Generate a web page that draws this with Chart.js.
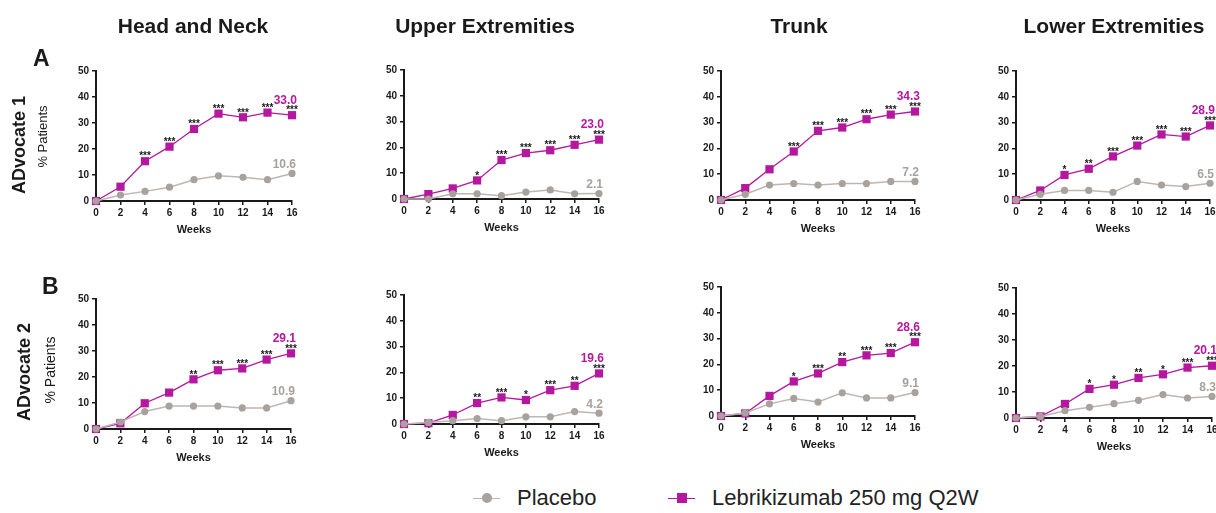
<!DOCTYPE html>
<html><head><meta charset="utf-8">
<script src="https://cdn.jsdelivr.net/npm/chart.js@4.4.1/dist/chart.umd.min.js"></script>
<style>
html,body{margin:0;padding:0;background:#fff;width:1216px;height:513px;overflow:hidden;position:relative;font-family:"Liberation Sans",Arial,sans-serif;}
.t{position:absolute;white-space:nowrap;color:#1a1a1a;}
canvas{position:absolute;}
</style></head><body>
<script>
// ---------- DATA ----------
const weeks = [0, 2, 4, 6, 8, 10, 12, 14, 16];
const regions = ['Head and Neck', 'Upper Extremities', 'Trunk', 'Lower Extremities'];
const studies = ['ADvocate 1', 'ADvocate 2'];
const panelLetters = ['A', 'B'];
const seriesNames = ['Placebo', 'Lebrikizumab 250 mg Q2W'];
const yTicks = [0, 10, 20, 30, 40, 50];

// ADvocate 1
const adv1HeadNeckPlacebo = [0, 2.3, 3.7, 5.3, 8.2, 9.7, 9.1, 8.2, 10.6];
const adv1HeadNeckLebri   = [0, 5.5, 15.3, 20.9, 27.7, 33.6, 32.2, 34.0, 33.0];
const adv1HeadNeckSig     = ['', '', '***', '***', '***', '***', '***', '***', '***'];
const adv1UpperPlacebo = [0, 0, 2.0, 2.0, 1.3, 2.7, 3.5, 2.0, 2.1];
const adv1UpperLebri   = [0, 1.9, 4.1, 7.2, 15.1, 17.8, 18.9, 21.0, 23.0];
const adv1UpperSig     = ['', '', '', '*', '***', '***', '***', '***', '***'];
const adv1TrunkPlacebo = [0, 2.2, 5.8, 6.4, 5.8, 6.4, 6.4, 7.2, 7.2];
const adv1TrunkLebri   = [0, 4.6, 11.9, 18.8, 26.8, 28.1, 31.3, 33.1, 34.3];
const adv1TrunkSig     = ['', '', '', '***', '***', '***', '***', '***', '***'];
const adv1LowerPlacebo = [0, 2.2, 3.7, 3.7, 3.0, 7.2, 5.8, 5.2, 6.5];
const adv1LowerLebri   = [0, 3.7, 9.7, 12.1, 16.9, 21.1, 25.4, 24.6, 28.9];
const adv1LowerSig     = ['', '', '*', '**', '***', '***', '***', '***', '***'];
// ADvocate 2
const adv2HeadNeckPlacebo = [0, 2.7, 6.7, 8.8, 8.8, 8.8, 8.1, 8.1, 10.9];
const adv2HeadNeckLebri   = [0, 2.2, 9.9, 14.0, 19.1, 22.6, 23.3, 26.7, 29.1];
const adv2HeadNeckSig     = ['', '', '', '', '**', '***', '***', '***', '***'];
const adv2UpperPlacebo = [0, 0.6, 1.3, 2.1, 1.3, 2.8, 2.8, 4.8, 4.2];
const adv2UpperLebri   = [0, 0.3, 3.5, 8.1, 10.3, 9.3, 13.1, 14.8, 19.6];
const adv2UpperSig     = ['', '', '', '**', '***', '*', '***', '**', '***'];
const adv2TrunkPlacebo = [0, 1.2, 4.7, 6.8, 5.4, 9.0, 7.0, 7.0, 9.1];
const adv2TrunkLebri   = [0, 1.0, 7.8, 13.4, 16.5, 20.9, 23.5, 24.4, 28.6];
const adv2TrunkSig     = ['', '', '', '*', '***', '**', '***', '***', '***'];
const adv2LowerPlacebo = [0, 0.6, 2.8, 4.1, 5.5, 6.8, 9.0, 7.7, 8.3];
const adv2LowerLebri   = [0, 0.6, 5.4, 11.2, 12.8, 15.4, 16.8, 19.4, 20.1];
const adv2LowerSig     = ['', '', '', '*', '*', '**', '*', '***', '***'];

// ---------- STYLE / LAYOUT ----------
const MAG = '#b5179e';
const GRAY_PT = '#a9a29c';
const GRAY_LINE = '#bdb7b2';
const GRAY_LBL = '#a8a29d';
const INK = '#1a1a1a';
const FONT = '"Liberation Sans", Arial, sans-serif';

// plot-area frames (left, right, top, bottom) in page pixels
const frames = [
  [96, 292, 71, 201], [404, 599, 70, 199], [721, 915, 71, 200], [1016, 1210, 71, 200],
  [96, 291, 299, 429], [404, 599, 295, 424], [721, 915, 287, 416], [1016, 1212, 288, 418]
];
const panels = [
  [adv1HeadNeckPlacebo, adv1HeadNeckLebri, adv1HeadNeckSig],
  [adv1UpperPlacebo, adv1UpperLebri, adv1UpperSig],
  [adv1TrunkPlacebo, adv1TrunkLebri, adv1TrunkSig],
  [adv1LowerPlacebo, adv1LowerLebri, adv1LowerSig],
  [adv2HeadNeckPlacebo, adv2HeadNeckLebri, adv2HeadNeckSig],
  [adv2UpperPlacebo, adv2UpperLebri, adv2UpperSig],
  [adv2TrunkPlacebo, adv2TrunkLebri, adv2TrunkSig],
  [adv2LowerPlacebo, adv2LowerLebri, adv2LowerSig]
];

const YW = 50, PT = 40, PR = 28, XH = 40;

function txt(s, opt) {
  const d = document.createElement('div');
  d.className = 't';
  d.textContent = s;
  const fs = opt.size;
  d.style.font = (opt.weight || 'normal') + ' ' + fs + 'px ' + FONT;
  d.style.lineHeight = fs + 'px';
  if (opt.color) d.style.color = opt.color;
  const top = opt.baseline - 0.8465 * fs;
  if (opt.rotate) {
    const w = 300;
    d.style.width = w + 'px';
    d.style.textAlign = 'center';
    d.style.left = (opt.cx - w / 2) + 'px';
    d.style.top = (opt.cy - fs / 2) + 'px';
    d.style.transform = 'rotate(-90deg)';
    d.style.transformOrigin = '50% 50%';
  } else if (opt.cx !== undefined) {
    const w = 400;
    d.style.width = w + 'px';
    d.style.textAlign = 'center';
    d.style.left = (opt.cx - w / 2) + 'px';
    d.style.top = top + 'px';
  } else {
    d.style.left = opt.left + 'px';
    d.style.top = top + 'px';
  }
  document.body.appendChild(d);
}

function annotPlugin(pla, leb, sig) {
  return {
    id: 'annot',
    afterDatasetsDraw(chart) {
      const ctx = chart.ctx, xs = chart.scales.x, ys = chart.scales.y;
      ctx.save();
      ctx.textAlign = 'center';
      ctx.textBaseline = 'middle';
      ctx.font = 'bold 10px ' + FONT;
      ctx.fillStyle = INK;
      sig.forEach((s, i) => {
        if (!s) return;
        ctx.fillText(s, xs.getPixelForValue(weeks[i]), ys.getPixelForValue(leb[i]) - 4.5);
      });
      const n = weeks.length - 1;
      const xe = xs.getPixelForValue(weeks[n]);
      ctx.textAlign = 'right';
      ctx.font = 'bold 12px ' + FONT;
      ctx.fillStyle = MAG;
      ctx.fillText(leb[n].toFixed(1), xe + 5, ys.getPixelForValue(leb[n]) - 15);
      ctx.fillStyle = GRAY_LBL;
      ctx.fillText(pla[n].toFixed(1), xe + 4, ys.getPixelForValue(pla[n]) - 8.5);
      ctx.restore();
    }
  };
}

panels.forEach((p, k) => {
  const [l, r, t, b] = frames[k];
  const [pla, leb, sig] = p;
  const W = YW + (r - l) + PR, H = PT + (b - t) + XH;
  const c = document.createElement('canvas');
  c.width = W; c.height = H;
  c.style.width = W + 'px'; c.style.height = H + 'px';
  c.style.left = (l - YW) + 'px'; c.style.top = (t - PT) + 'px';
  document.body.appendChild(c);
  new Chart(c, {
    type: 'line',
    data: {
      datasets: [
        {
          label: seriesNames[0],
          data: weeks.map((w, i) => ({ x: w, y: pla[i] })),
          borderColor: GRAY_LINE, borderWidth: 1.5,
          pointStyle: 'circle', pointRadius: 3.6,
          pointBackgroundColor: GRAY_PT, pointBorderColor: GRAY_PT, pointBorderWidth: 0,
          clip: false
        },
        {
          label: seriesNames[1],
          data: weeks.map((w, i) => ({ x: w, y: leb[i] })),
          borderColor: MAG, borderWidth: 1.3,
          pointStyle: 'rect', pointRadius: 5.8,
          pointBackgroundColor: MAG, pointBorderColor: MAG, pointBorderWidth: 0,
          clip: false
        }
      ]
    },
    options: {
      responsive: false, animation: false, events: [],
      layout: { padding: { top: PT, right: PR, left: 0, bottom: 0 } },
      plugins: { legend: { display: false }, tooltip: { enabled: false } },
      scales: {
        x: {
          type: 'linear', min: 0, max: 16,
          afterFit: s => { s.height = XH; },
          ticks: { stepSize: 2, autoSkip: false, maxRotation: 0, padding: 2,
                   color: INK, font: { family: FONT, size: 10, weight: 'bold' } },
          grid: { display: true, drawOnChartArea: false, drawTicks: true, tickLength: 4, color: INK, lineWidth: 1.5 },
          border: { display: true, color: INK, width: 2 },
          title: { display: true, text: 'Weeks', color: INK,
                   font: { family: FONT, size: 11, weight: 'bold' }, padding: { top: 0, bottom: 4 } }
        },
        y: {
          min: 0, max: 50,
          afterFit: s => { s.width = YW; },
          afterBuildTicks: s => { s.ticks = yTicks.map(v => ({ value: v })); },
          ticks: { padding: 3, color: INK, font: { family: FONT, size: 10, weight: 'bold' } },
          grid: { display: true, drawOnChartArea: false, drawTicks: true, tickLength: 4, color: INK, lineWidth: 1.5 },
          border: { display: true, color: INK, width: 2 }
        }
      }
    },
    plugins: [annotPlugin(pla, leb, sig)]
  });
});

// ---------- TEXT ----------
const titleCx = [193, 485, 799, 1114];
regions.forEach((s, i) => txt(s, { cx: titleCx[i], baseline: 33, size: 21, weight: 'bold' }));
txt(panelLetters[0], { left: 33, baseline: 66, size: 23, weight: 'bold' });
txt(panelLetters[1], { left: 42, baseline: 294, size: 23, weight: 'bold' });
txt(studies[0], { rotate: true, cx: 19, cy: 145, size: 18, weight: 'bold' });
txt(studies[1], { rotate: true, cx: 24, cy: 372, size: 18, weight: 'bold' });
txt('% Patients', { rotate: true, cx: 42, cy: 136, size: 13 });
txt('% Patients', { rotate: true, cx: 50, cy: 370, size: 14 });

// legend
function legendItem(name, lineL, isRect, textL) {
  const ln = document.createElement('div');
  ln.style.cssText = 'position:absolute;height:1.5px;width:27px;top:497.5px;left:' + lineL + 'px;background:' + (isRect ? MAG : GRAY_LINE);
  document.body.appendChild(ln);
  const m = document.createElement('div');
  if (isRect) {
    m.style.cssText = 'position:absolute;width:10px;height:10px;top:493px;left:' + (lineL + 8.5) + 'px;background:' + MAG;
  } else {
    m.style.cssText = 'position:absolute;width:10px;height:10px;border-radius:50%;top:493px;left:' + (lineL + 8.5) + 'px;background:' + GRAY_PT;
  }
  document.body.appendChild(m);
  txt(name, { left: textL, baseline: 506, size: 22, color: '#222' });
}
legendItem(seriesNames[0], 473, false, 517);
legendItem(seriesNames[1], 668, true, 712);
</script>
</body></html>
